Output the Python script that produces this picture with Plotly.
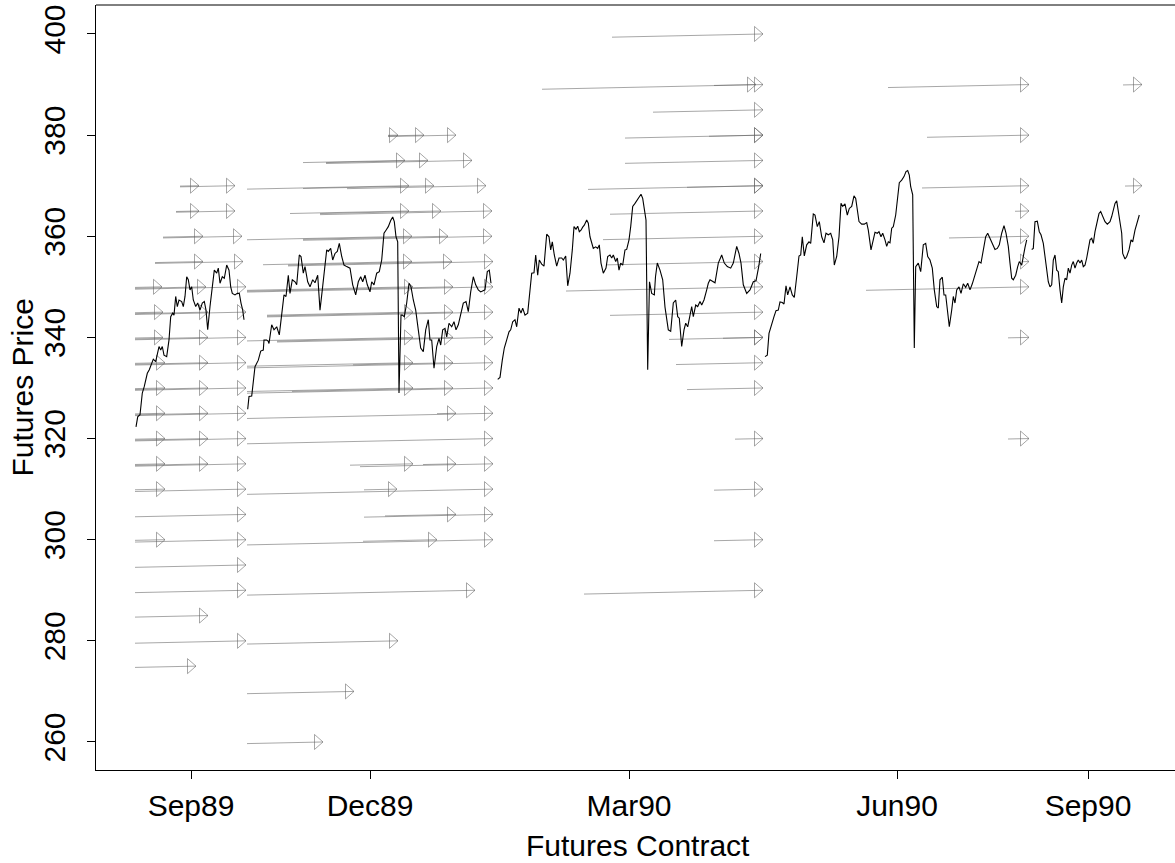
import plotly.graph_objects as go

# ---------------- data ----------------
# x = trading-day position along the contract time axis, y = futures price
contract_ticks = [95, 274, 533, 801, 992]
contract_labels = ["Sep89", "Dec89", "Mar90", "Jun90", "Sep90"]
price_ticks = [260, 280, 300, 320, 340, 360, 380, 400]

seg_sep89 = [(40,322.3),(41.7,324.3),(44,324.7),(46.3,329.0),(48.3,330.3),(51.3,332.9),(53.3,333.6),(55.7,334.9),
             (57.3,335.7),(59.7,335.2),(61.3,336.9),(63,338.2),(64.7,337.5),(66.3,338.2),(68,336.5),(70.7,336.2),
             (73,339.5),(74.7,344.1),(76.7,344.8),(78,344.4),(79.7,348.1),(81.3,346.1),(83,347.4),(85.7,347.1),
             (87.3,346.1),(89,348.1),(90.7,352.0),(92.3,351.4),(94,349.4),(95.7,350.0),(97.3,347.4),(99.7,346.1),
             (101.7,346.8),(104,345.4),(106.3,346.8),(108.3,347.1),(110,345.4),(111.7,341.5),(114,346.1),(116.7,350.7),
             (118.3,353.3),(120.7,352.7),(122.3,353.7),(124,350.7),(126.3,352.0),(128.3,351.7),(130.7,354.3),(133,353.3),
             (134.7,350.0),(136.3,348.7),(139,348.4),(141.3,348.7),(143.3,348.7),(145,346.8),(146.7,345.4),(148,343.5)]

seg_dec89 = [(151.7,325.8),(153,328.3),(155.7,328.4),(157.3,331.6),(159,334.2),(162.3,335.5),(164.7,337.3),(167.3,337.5),
             (168,339.5),(170.7,339.5),(172.3,339.2),(173,338.8),(175.7,342.5),(178,341.5),(180.7,342.1),(183.3,340.5),
             (185.7,344.1),(188,348.4),(190,348.1),(192.3,352.3),(194,348.7),(196.3,351.4),(199,351.0),(200.7,350.4),
             (203.3,356.3),(205,356.0),(207.3,352.7),(209,354.0),(211.7,351.0),(214,350.0),(216.7,351.4),(219,350.8),
             (221.7,352.3),(224,345.4),(226.3,349.4),(229,354.0),(230.7,357.3),(232.3,357.0),(234.7,357.6),(236.7,355.3),
             (239,356.6),(241.3,357.0),(243.3,358.6),(245.7,356.0),(248,354.3),(250.7,354.0),(254,353.7),(256.7,350.4),
             (259.7,348.4),(262.3,351.0),(264.7,352.0),(266.7,351.0),(269,352.3),(271.3,350.4),(274,349.0),(275.7,351.0),
             (278,350.4),(280.7,352.7),(283.3,353.0),(285.7,355.3),(288,360.6),(290,361.2),(292.3,361.9),(294.7,363.1),
             (296.7,363.8),(298.3,362.9),(300,359.9),(301.7,358.9),(303,329.0),(305,344.4),(306.3,344.4),(308.3,344.1),
             (310.7,346.8),(313,350.7),(315,350.0),(317.3,347.4),(319.7,345.4),(322.3,341.5),(324.7,337.9),(327.3,337.2),
             (329.7,341.5),(332.3,343.5),(334,339.5),(335.7,339.5),(338,333.9),(340.7,338.2),(343,339.8),(344.7,338.5),
             (346.7,341.5),(349,341.8),(350.7,340.1),(353,342.8),(355.7,342.1),(358,343.1),(360,341.5),(362.3,342.5),
             (364.7,344.8),(367.3,346.8),(370,347.1),(372.3,345.1),(374.7,349.0),(377.3,352.0),(379.7,350.4),(382.3,349.4),
             (384.7,349.0),(389,349.4),(391.3,353.0),(393.3,353.3),(395,350.7)]

seg_mar90 = [(401.7,331.7),(404,332.1),(406.3,335.5),(408.3,337.9),(410.7,339.5),(413,341.1),(414.7,341.5),(416.7,343.1),
             (419,343.5),(420.7,342.1),(423,345.8),(425,344.8),(426.7,345.8),(429,344.4),(431.7,344.8),(434,348.7),
             (435.7,352.7),(438,352.8),(439.7,356.3),(441.7,352.3),(443.3,355.3),(445.7,354.5),(448,354.1),(450.7,360.4),
             (453,359.9),(454.7,357.3),(456.3,358.9),(458.3,356.3),(460.7,354.1),(463,355.7),(465.7,355.7),(467.3,355.3),
             (469.7,356.1),(471.7,350.2),(474,352.7),(476.3,357.3),(478,361.9),(480,361.4),(481.7,362.0),(483.3,360.9),
             (485,361.2),(486.7,361.8),(488.3,362.2),(490.7,363.2),(492.3,362.6),(494,359.9),(495.7,358.6),(497.3,357.6),
             (499.7,357.9),(501.7,357.6),(503.3,358.3),(505,354.7),(507.3,352.7),(510,353.7),(511.7,356.0),(514,356.3),
             (515.7,355.7),(517.3,356.3),(519.7,355.0),(521.3,355.7),(523,353.3),(524.7,354.7),(526.7,354.3),(529,357.3),
             (530.7,357.4),(533,359.3),(534.7,361.9),(536.7,365.9),(539,366.5),(541.3,367.2),(543.3,367.8),(545,368.3),
             (546.7,367.5),(548.3,365.2),(550,363.2),(551.7,333.6),(553.5,351.0),(555.7,348.7),(558.3,348.4),(559.5,352.0),
             (561.3,354.7),(564,353.3),(566.7,351.4),(569,346.0),(572.3,341.5),(574.7,341.2),(577.3,346.8),(579.7,347.4),
             (581.7,344.1),(583.3,343.8),(585.7,338.2),(588,341.5),(589.7,342.8),(591.7,342.1),(594,344.8),(595.7,346.1),
             (597.3,344.1),(599.7,346.4),(601.7,346.1),(604,347.1),(605.7,346.4),(608,347.4),(610.7,349.4),(612.3,350.7),
             (614,351.4),(619,350.8),(622.3,354.7),(625.7,356.3),(628.3,354.7),(631.3,354.0),(634.7,353.7),(637.3,354.7),
             (640.7,358.0),(643,356.6),(645,354.7),(647.3,350.4),(650.7,348.7),(654,349.4),(657.3,351.0),(660,351.2),
             (662.7,354.0),(664.7,356.6)]

seg_jun90 = [(669,336.2),(671.3,336.5),(673,340.8),(675.7,342.8),(678,344.1),(680,345.3),(682.3,345.4),(684,347.0),
             (686.3,346.9),(688,346.6),(690,350.2),(691.7,348.4),(694,350.0),(696.3,348.4),(698.3,347.9),(700.7,352.0),
             (703,356.1),(704.7,356.3),(706.3,359.9),(708.3,356.1),(710.7,358.3),(713,358.9),(714.7,358.6),(717.3,364.4),
             (719,364.2),(721.3,361.9),(723.3,362.9),(725.7,359.9),(728,358.7),(730,360.6),(732.3,360.3),(734.7,360.6),
             (736.7,359.3),(738.3,354.3),(740.7,356.0),(743,359.9),(745,366.5),(746.7,365.9),(749,366.4),(751.3,364.2),
             (753.3,365.5),(755.7,365.9),(758,368.0),(759.7,367.5),(761.3,365.2),(763,362.9),(765.7,362.4),(768.3,362.4),
             (770.7,362.7),(772.3,361.2),(775,357.3),(776.7,358.6),(779,360.8),(781.3,360.6),(783,360.9),(785,359.9),
             (786.7,360.6),(789,359.3),(790.7,358.0),(792.3,358.9),(794,358.7),(795.7,361.6),(797.3,361.9),(799.7,364.2),
             (801.7,367.8),(803.3,370.6),(805.7,371.1),(808,371.8),(810,372.8),(811.7,373.0),(813.3,372.1),(814.7,369.8),
             (816.7,368.2),(818.3,337.9),(819.7,354.0),(822.3,354.7),(824.7,353.0),(827.3,358.3),(829.7,358.6),(831.7,356.0),
             (834,355.3),(836.3,353.7),(838.3,349.4),(840.7,346.1),(842.3,345.8),(844,351.4),(846.3,351.9),(848,348.4),
             (849.7,348.4),(851.7,345.4),(853.3,342.1),(855.7,345.4),(857.3,348.1),(859,346.8),(860.7,349.4),(863,350.0),
             (865,348.7),(867.3,350.6),(869.7,349.9),(871.7,350.7),(874,349.4),(876.3,350.6),(878.3,352.0),(880.7,353.7),
             (883,355.0),(885,354.7),(887.3,357.6),(889.7,359.9),(891.7,360.6),(894,359.6),(896.3,358.3),(899,357.4),
             (901.3,357.6),(903.3,358.3),(905.7,360.6),(908,362.1),(910,360.6),(912.3,358.0),(914,354.7),(915.7,351.7),
             (917.3,351.4),(919.7,352.3),(921.7,354.0),(923.3,355.0),(925.7,354.3),(927.3,356.3),(929,357.8),(930.7,359.3)]

seg_sep90 = [(935.7,357.4),(937.3,357.6),(939,362.9),(941.3,363.0),(943.3,360.9),(945,360.3),(947.3,358.6),(949,356.0),
             (950.7,352.7),(952.3,351.0),(954,350.0),(955.7,350.4),(957.3,355.3),(959,356.3),(960.7,353.3),(962.3,353.0),
             (964,349.4),(965.7,346.8),(967.3,350.0),(969,351.7),(970.7,351.4),(972.3,353.7),(974,352.7),(975.7,354.3),
             (977.3,355.0),(979,353.7),(980.7,354.7),(982.3,355.3),(984,354.7),(985.7,355.3),(987.3,354.0),(989,354.3),
             (990.7,355.7),(992.3,357.6),(994,359.3),(995.7,359.6),(997.3,358.6),(999,360.9),(1000.7,362.6),(1003,364.5),
             (1004.7,364.9),(1006.7,363.9),(1009,362.9),(1011.3,362.4),(1014,362.9),(1015.7,363.9),(1017.3,365.5),(1019,366.5),
             (1020.7,367.0),(1022.3,364.9),(1024,363.2),(1025.7,360.6),(1026.7,356.6),(1029,355.5),(1030.7,356.0),(1033,357.3),
             (1035,359.3),(1036.7,358.9),(1039,361.2),(1041.3,362.9),(1043.3,364.2)]

# options: (strike, first trading day, expiry day)
opts_sep89 = [(370,84,103),(370,84,139),(365,80,103),(365,80,139),(360,67,107),(360,67,146),(355,59,107),(355,59,147),
              (350,39,66),(350,39,110),(350,39,150),(345,39,67),(345,39,112),(345,39,150),(340,39,67),(340,39,112),(340,39,150),
              (335,39,69),(335,39,112),(335,39,150),(330,39,69),(330,39,112),(330,39,150),(325,39,69),(325,39,112),(325,39,150),
              (320,39,69),(320,39,112),(320,39,150),(315,39,69),(315,39,112),(315,39,150),(310,39,69),(310,39,150),
              (305,39,150),(300,39,69),(300,39,150),(295,39,150),(290,39,150),(285,39,112),(280,39,150),(275,39,100)]

opts_dec89 = [(380,292,302),(380,292,328),(380,292,360),(375,207,309),(375,230,332),(375,230,376),
              (370,151,313),(370,207,338),(370,251,390),(365,194,313),(365,224,345),(365,224,396),
              (360,151,316),(360,207,352),(360,207,396),(355,167,316),(355,192,356),(355,192,397),
              (350,151,317),(350,151,357),(350,151,397),(345,171,317),(345,171,357),(345,171,397),
              (340,151,317),(340,181,357),(340,181,397),(335,151,317),(335,257,357),(335,151,397),
              (330,151,317),(330,196,357),(330,151,397),(325,341,360),(325,151,397),(320,151,397),
              (315,254,317),(315,327,360),(315,264,397),(310,268,301),(310,151,397),(305,289,360),(305,268,397),
              (300,267,341),(300,151,397),(290,151,379),(280,151,302),(270,151,258),(260,151,227)]

opts_mar90 = [(400,516,667),(390,446,667),(390,618,660),(385,557,667),(380,529,667),(380,613,667),(375,529,667),
              (370,492,667),(370,591,667),(365,514,667),(360,507,667),(355,510,667),(350,470,667),(345,514,667),
              (340,573,667),(340,627,667),(335,580,667),(330,591,667),(320,639,667),(310,618,667),(300,618,667),
              (290,488,667)]

opts_jun90 = [(390,792,933),(380,831,933),(370,826,933),(365,919,933),(360,853,933),(355,926,933),(350,770,933),
              (340,912,933),(320,912,933)]

opts_sep90 = [(390,1027,1046),(370,1029,1046)]

# ---------------- layout constants ----------------
W, H = 1175, 863
ML, MR, MT, MB = 96, 0, 5, 93
X_RANGE = [0, 1079]
Y_RANGE = [254.46, 405.73]
FONT = "Liberation Sans, Arial, Helvetica, sans-serif"
FS = 30

xpx = (W - ML - MR) / (X_RANGE[1] - X_RANGE[0])
ypx = (H - MT - MB) / (Y_RANGE[1] - Y_RANGE[0])
head_len = 8.5 / xpx
head_half = 7.5 / ypx
drift = 0.0042  # strike drawn slightly lower at start (discounting), per day

fig = go.Figure()

arrow_color = "rgba(95,95,95,0.55)"
for group in (opts_sep89, opts_dec89, opts_mar90, opts_jun90, opts_sep90):
    for k, t0, t1 in group:
        y0 = k - drift * (t1 - t0)
        xs = [t0, t1, None, t1 - head_len, t1, t1 - head_len, t1 - head_len]
        ys = [y0, k, None, k + head_half, k, k - head_half, k + head_half]
        fig.add_trace(go.Scatter(x=xs, y=ys, mode="lines",
                                 line=dict(color=arrow_color, width=1),
                                 hoverinfo="skip", showlegend=False))

for seg in (seg_sep89, seg_dec89, seg_mar90, seg_jun90, seg_sep90):
    fig.add_trace(go.Scatter(x=[p[0] for p in seg], y=[p[1] for p in seg], mode="lines",
                             line=dict(color="black", width=1.1),
                             hoverinfo="skip", showlegend=False))

fig.update_layout(
    width=W, height=H,
    margin=dict(l=ML, r=MR, t=MT, b=MB),
    paper_bgcolor="white", plot_bgcolor="white",
    font=dict(family=FONT, size=FS, color="black"),
    xaxis=dict(range=X_RANGE, showgrid=False, zeroline=False,
               showline=True, linecolor="black", linewidth=1,
               ticks="outside", ticklen=8, tickcolor="black", tickwidth=1,
               tickmode="array", tickvals=contract_ticks, ticktext=contract_labels,
               tickfont=dict(family=FONT, size=FS), ticklabelstandoff=1),
    yaxis=dict(range=Y_RANGE, showgrid=False, zeroline=False,
               showline=True, linecolor="black", linewidth=1,
               ticks="outside", ticklen=8, tickcolor="black", tickwidth=1,
               tickmode="array", tickvals=price_ticks, tickangle=-90,
               tickfont=dict(family=FONT, size=FS), ticklabelstandoff=10),
    shapes=[dict(type="line", xref="paper", yref="paper", x0=0, x1=1, y0=1, y1=1,
                 line=dict(color="black", width=1))],
    annotations=[
        dict(text="Futures Contract", xref="paper", yref="paper", x=(638 - ML) / (W - ML - MR),
             y=-(845 - (H - MB)) / (H - MT - MB), showarrow=False, xanchor="center", yanchor="middle",
             font=dict(family=FONT, size=FS)),
        dict(text="Futures Price", xref="paper", yref="paper", x=-(ML - 22) / (W - ML - MR),
             y=0.5, showarrow=False, xanchor="center", yanchor="middle", textangle=-90,
             font=dict(family=FONT, size=FS)),
    ],
)

fig.write_html("out.html", config={"displayModeBar": False},
               post_script="document.body.style.margin='0px';document.body.style.overflow='hidden';")
